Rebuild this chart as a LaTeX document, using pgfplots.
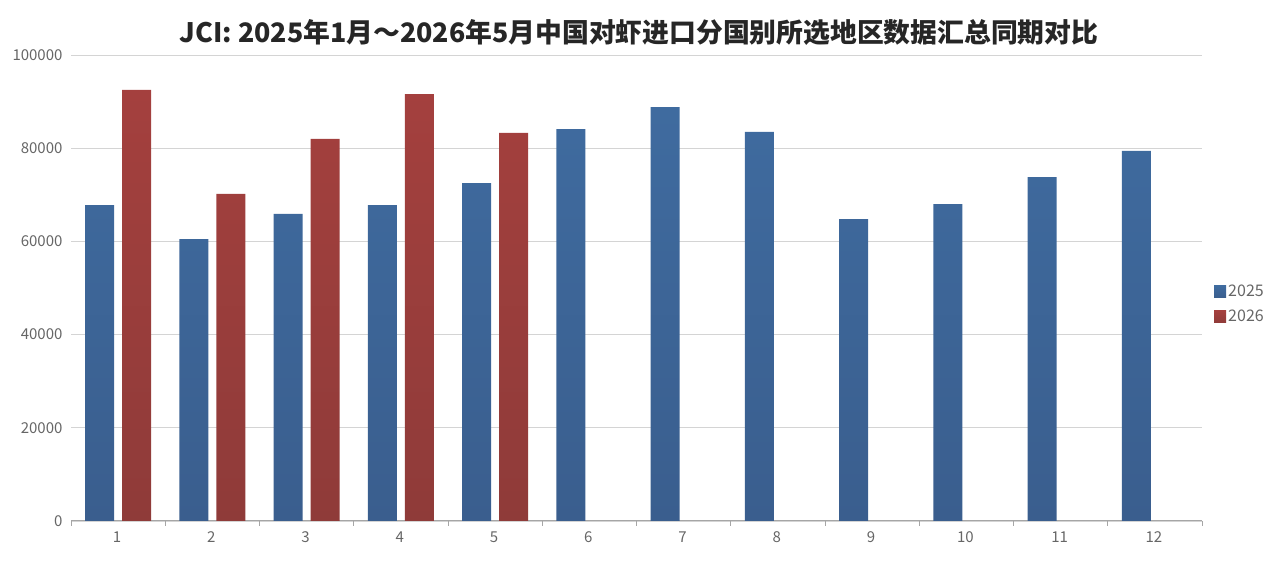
\documentclass[border=0pt]{standalone}
\usepackage{fontspec}
\setmainfont{Noto Sans CJK SC}
\usepackage{pgfplots}
\pgfplotsset{compat=1.18}
\definecolor{bluetop}{HTML}{3F6B9F}
\definecolor{bluebot}{HTML}{3A5E8E}
\definecolor{redtop}{HTML}{A4403E}
\definecolor{redbot}{HTML}{8F3B39}
\definecolor{gridc}{HTML}{D4D4D4}
\definecolor{tickc}{HTML}{666666}
\begin{document}
\begin{tikzpicture}[x=1pt,y=1pt]
\path[use as bounding box] (0,0) rectangle (1278,562);
\node[font=\fontsize{26.8}{30}\selectfont\bfseries, text=black!85] at (639,530) {JCI: 2025年1月～2026年5月中国对虾进口分国别所选地区数据汇总同期对比};
\begin{axis}[
  at={(71pt,41pt)}, anchor=south west,
  scale only axis, width=1131pt, height=466pt,
  xmin=0.5, xmax=12.5, ymin=0, ymax=100000,
  xtick={0.5,1.5,...,12.5}, xticklabels={},
  extra x ticks={1,2,3,4,5,6,7,8,9,10,11,12},
  extra x tick labels={1,2,3,4,5,6,7,8,9,10,11,12},
  extra x tick style={major tick length=0pt, grid=none},
  ytick={0,20000,40000,60000,80000,100000},
  yticklabels={0,20000,40000,60000,80000,100000},
  axis x line*=bottom, axis y line*=left,
  y axis line style={draw=none},
  x axis line style={draw=gray!70, line width=1pt},
  ymajorgrids, grid style={gridc, line width=0.8pt},
  tick align=outside,
  major x tick style={draw=gray!70, line width=0.8pt},
  major y tick style={draw=none},
  x tick label style={yshift=-7pt, xshift=-1pt},
  major tick length=5pt,
  tick label style={font=\fontsize{15}{18}\selectfont, text=tickc},
  scaled y ticks=false,
  ybar, bar width=0.308,
  legend style={at={(1.008,0.465)}, anchor=west, draw=none, fill=none,
    font=\fontsize{16}{19}\selectfont, text=tickc, row sep=8pt,
    /tikz/every even column/.append style={column sep=2pt}},
  legend cell align=left,
  legend image code/.code={\path[#1, draw=none] (0pt,-6pt) rectangle (12pt,6pt);},
]
\addplot[bar shift=-0.196, draw=none, top color=bluetop, bottom color=bluebot] coordinates {
(1,67800) (2,60500) (3,65900) (4,67800) (5,72500) (6,84100)
(7,88800) (8,83500) (9,64800) (10,68000) (11,73800) (12,79400)};
\addlegendentry{2025}
\addplot[bar shift=0.196, draw=none, top color=redtop, bottom color=redbot] coordinates {
(1,92500) (2,70200) (3,82000) (4,91600) (5,83300)};
\addlegendentry{2026}
\end{axis}
\end{tikzpicture}
\end{document}
